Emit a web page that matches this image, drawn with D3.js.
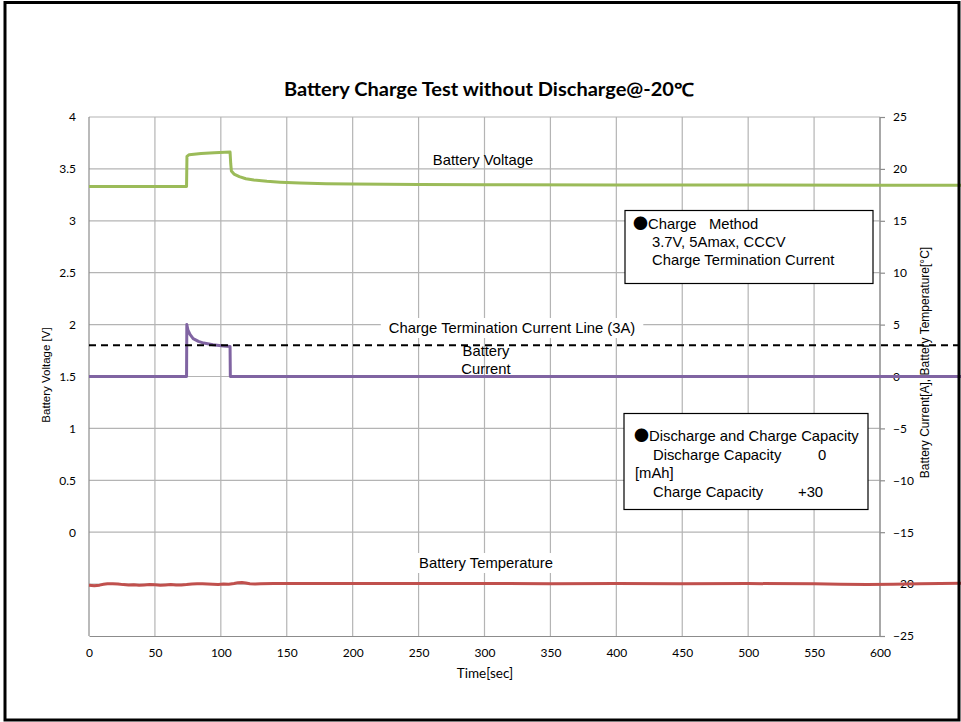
<!DOCTYPE html>
<html><head><meta charset="utf-8">
<script src="https://cdn.jsdelivr.net/npm/d3@7"></script>
<style>body{margin:0;background:#fff}svg{display:block}</style>
</head><body>
<svg id="chart" width="961" height="722"></svg>
<script>
// ---- data ----
const voltTime = [0, 74, 74.3, 76, 85, 95, 107, 107.5, 108, 110, 114, 119, 125, 135, 145, 160, 180, 200, 250, 300, 400, 500, 600, 662];
const voltValues = [3.33, 3.33, 3.62, 3.637, 3.648, 3.655, 3.662, 3.55, 3.48, 3.45, 3.425, 3.405, 3.393, 3.38, 3.372, 3.364, 3.358, 3.355, 3.35, 3.348, 3.346, 3.344, 3.343, 3.342];
const currTime = [0, 74, 74.2, 75, 76.6, 79, 83, 87, 94, 102, 107, 107.2, 662];
const currValues = [0, 0, 5.0, 4.5, 4.05, 3.65, 3.38, 3.22, 3.05, 2.93, 2.88, 0, 0];
const tempTime = [0, 4, 8, 11, 14, 18, 22, 26, 30, 34, 38, 42, 46, 50, 54, 58, 62, 66, 70, 74, 78, 82, 86, 90, 94, 98, 102, 106, 110, 113, 116, 119, 122, 126, 130, 140, 160, 200, 250, 300, 350, 400, 450, 500, 550, 570, 590, 610, 630, 662];
const tempValues = [-20.12, -20.15, -20.1, -20.02, -19.96, -19.96, -19.98, -20.05, -20.08, -20.06, -20.1, -20.08, -20.05, -20.07, -20.1, -20.08, -20.05, -20.09, -20.08, -20.04, -19.98, -19.96, -19.97, -20.0, -20.02, -20.04, -20.0, -20.02, -19.94, -19.86, -19.85, -19.9, -19.97, -19.98, -19.96, -19.95, -19.95, -19.94, -19.95, -19.95, -19.96, -19.95, -19.97, -19.95, -19.97, -20.01, -20.05, -20.02, -19.97, -19.92];
const terminationCurrent = 3;
const xTicks = [0, 50, 100, 150, 200, 250, 300, 350, 400, 450, 500, 550, 600];
const leftTicks = [0, 0.5, 1, 1.5, 2, 2.5, 3, 3.5, 4];
const rightTicks = [-25, -20, -15, -10, -5, 0, 5, 10, 15, 20, 25];
const titleText = "Battery Charge Test without Discharge@-20℃";
const box1Lines = ["Charge   Method", "3.7V, 5Amax, CCCV", "Charge Termination Current"];
const box2Lines = ["Discharge and Charge Capacity", "Discharge Capacity", "[mAh]", "Charge Capacity"];
const capacityValues = ["0", "+30"];

// ---- layout ----
const svg = d3.select("#chart");
const x = d3.scaleLinear().domain([0, 600]).range([89, 880]);
const yL = d3.scaleLinear().domain([-1, 4]).range([636, 117]);
const yR = d3.scaleLinear().domain([-25, 25]).range([636, 117]);
const gridColor = "#b4b4b4", axisColor = "#8c8c8c";
const tickFont = "Lato, 'Open Sans', sans-serif";
const arial = "'Liberation Sans', Arial, sans-serif";
const fs = 14.8;

svg.append("clipPath").attr("id", "clip").append("rect").attr("x", 0).attr("y", 0).attr("width", 961).attr("height", 722);

// grid
const grid = svg.append("g");
grid.selectAll(".hg").data(rightTicks.filter(d => d > -25)).join("line")
  .attr("x1", 89).attr("x2", 880).attr("y1", d => yR(d)).attr("y2", d => yR(d))
  .attr("stroke", gridColor).attr("stroke-width", 1.2);
grid.selectAll(".vg").data(xTicks.filter(d => d > 0)).join("line")
  .attr("x1", d => x(d)).attr("x2", d => x(d)).attr("y1", 117).attr("y2", 636)
  .attr("stroke", gridColor).attr("stroke-width", 1.2);

// axes
const gx = svg.append("g").attr("transform", "translate(0,636)")
  .call(d3.axisBottom(x).tickValues(xTicks).tickSize(0).tickPadding(12));
const gl = svg.append("g").attr("transform", "translate(89,0)")
  .call(d3.axisLeft(yL).tickValues(leftTicks).tickSize(0).tickPadding(13).tickFormat(d3.format("")));
const gr = svg.append("g").attr("transform", "translate(880,0)")
  .call(d3.axisRight(yR).tickValues(rightTicks).tickSize(5).tickPadding(8));
[gx, gl, gr].forEach(g => {
  g.select(".domain").attr("stroke", axisColor).attr("stroke-width", 1.2);
  g.selectAll(".tick line").attr("stroke", axisColor).attr("stroke-width", 1.2);
  g.selectAll("text").attr("font-family", tickFont).attr("font-size", 12).attr("fill", "#000");
});
gl.select(".domain").attr("d", "M0,117V636");
gr.select(".domain").attr("d", "M0,117V636");

// axis titles
svg.append("text").attr("x", 485).attr("y", 678).attr("text-anchor", "middle")
  .attr("font-family", tickFont).attr("font-size", 13.5).text("Time[sec]");
svg.append("text").attr("transform", "translate(50,375) rotate(-90)").attr("text-anchor", "middle")
  .attr("font-family", arial).attr("font-size", 11.5).text("Battery Voltage [V]");
svg.append("text").attr("transform", "translate(928.5,362.5) rotate(-90)").attr("text-anchor", "middle")
  .attr("font-family", arial).attr("font-size", 12).text("Battery Current[A], Battery Temperature[°C]");

// title
svg.append("text").attr("x", 489).attr("y", 96).attr("text-anchor", "middle")
  .attr("font-family", tickFont).attr("font-weight", "bold").attr("font-size", 18)
  .attr("textLength", 410).attr("lengthAdjust", "spacingAndGlyphs").text(titleText);

// data lines
const plot = svg.append("g").attr("clip-path", "url(#clip)");
const lineL = d3.line().x(d => x(d[0])).y(d => yL(d[1]));
const lineR = d3.line().x(d => x(d[0])).y(d => yR(d[1]));
plot.append("path").datum(tempTime.map((t, i) => [t, tempValues[i]])).attr("d", lineR)
  .attr("fill", "none").attr("stroke", "#c0504d").attr("stroke-width", 3).attr("stroke-linejoin", "round");
plot.append("path").datum(voltTime.map((t, i) => [t, voltValues[i]])).attr("d", lineL)
  .attr("fill", "none").attr("stroke", "#9bbb59").attr("stroke-width", 3).attr("stroke-linejoin", "round");
plot.append("path").datum(currTime.map((t, i) => [t, currValues[i]])).attr("d", lineR)
  .attr("fill", "none").attr("stroke", "#8064a2").attr("stroke-width", 3).attr("stroke-linejoin", "round");
plot.append("line").attr("x1", x(0)).attr("x2", x(662)).attr("y1", yR(terminationCurrent)).attr("y2", yR(terminationCurrent))
  .attr("stroke", "#000").attr("stroke-width", 2).attr("stroke-dasharray", "7,5");

// annotations
function label(txt, cx, by, bg) {
  const t = svg.append("text").attr("x", cx).attr("y", by).attr("text-anchor", "middle")
    .attr("font-family", arial).attr("font-size", fs).text(txt);
  if (bg) {
    const b = t.node().getBBox();
    svg.insert("rect", () => t.node()).attr("x", b.x - 8).attr("y", b.y - 2).attr("width", b.width + 16).attr("height", b.height + 4).attr("fill", "#fff");
  }
  return t;
}
label("Battery Voltage", 483, 165, false);
label("Charge Termination Current Line (3A)", 512, 333, true);
label("Battery", 486, 356, false);
label("Current", 486, 374, false);
label("Battery Temperature", 486, 568, true);

function bulletText(s, bx, by) {
  const t = svg.append("text").attr("x", bx).attr("y", by).attr("font-family", arial)
    .attr("font-size", fs).style("white-space", "pre");
  t.append("tspan").attr("font-family", "'Noto Sans CJK JP', 'DejaVu Sans', sans-serif").attr("font-size", 15).text("●");
  t.append("tspan").text(s);
}

// info boxes
svg.append("rect").attr("x", 625).attr("y", 210.5).attr("width", 248).attr("height", 73)
  .attr("fill", "#fff").attr("stroke", "#000").attr("stroke-width", 1.2);
bulletText(box1Lines[0], 633, 229);
svg.append("text").attr("x", 652).attr("y", 247).attr("font-family", arial).attr("font-size", fs).text(box1Lines[1]);
svg.append("text").attr("x", 652).attr("y", 265).attr("font-family", arial).attr("font-size", fs).text(box1Lines[2]);

svg.append("rect").attr("x", 624).attr("y", 413.5).attr("width", 244).attr("height", 96)
  .attr("fill", "#fff").attr("stroke", "#000").attr("stroke-width", 1.2);
bulletText(box2Lines[0], 634, 441);
const b2x = [653, 635, 653], b2y = [460, 478, 497];
box2Lines.slice(1).forEach((s, i) => svg.append("text").attr("x", b2x[i]).attr("y", b2y[i]).attr("font-family", arial)
  .attr("font-size", fs).text(s));
svg.append("text").attr("x", 818).attr("y", 460).attr("font-family", arial).attr("font-size", fs).text(capacityValues[0]);
svg.append("text").attr("x", 798).attr("y", 497).attr("font-family", arial).attr("font-size", fs).text(capacityValues[1]);

// outer frame
svg.append("rect").attr("x", 5).attr("y", 2.5).attr("width", 954).attr("height", 717.5)
  .attr("fill", "none").attr("stroke", "#000").attr("stroke-width", 3);
</script>
</body></html>
